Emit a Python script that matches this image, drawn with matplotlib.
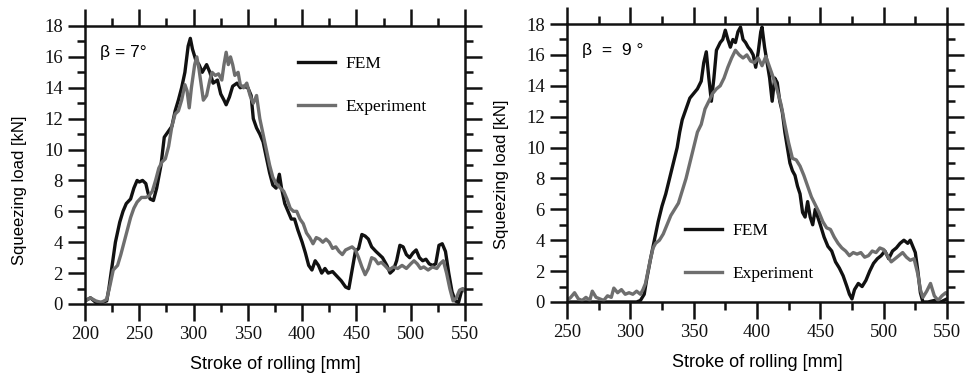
import matplotlib
matplotlib.use('Agg')
import matplotlib.pyplot as plt
from matplotlib.ticker import MultipleLocator

# beta = 7 deg panel
fem7_x = [200, 205, 210, 215, 220, 222, 225, 228, 232, 235, 238, 242, 245, 248, 250, 253, 256, 258, 260, 263,
          266, 270, 273, 276, 280, 283, 286, 289, 292, 295, 297, 299, 302, 305, 308, 312, 315, 318, 322, 325,
          328, 330, 333, 336, 340, 343, 346, 350, 353, 355, 358, 361, 364, 367, 370, 373, 376, 379, 381, 384,
          387, 390, 393, 396, 400, 403, 406, 409, 412, 415, 418, 421, 424, 428, 432, 436, 440, 443, 446, 449,
          452, 455, 458, 461, 464, 468, 471, 474, 478, 481, 484, 487, 490, 493, 496, 499, 502, 505, 508, 511,
          514, 517, 520, 523, 526, 529, 532, 535, 538, 541, 544, 547, 550]
fem7_y = [0.2, 0.4, 0.1, 0.1, 0.2, 1.0, 2.5, 4.0, 5.3, 6.0, 6.5, 6.8, 7.5, 8.0, 7.9, 8.0, 7.8, 7.2, 6.8, 6.7,
          7.5, 9.0, 10.8, 11.1, 11.5, 12.5, 13.2, 14.0, 15.0, 16.7, 17.2, 16.5, 15.8, 15.5, 15.0, 15.5, 15.0, 14.3, 14.5, 13.6,
          13.2, 12.9, 13.4, 14.1, 14.3, 14.0, 14.1, 14.0, 13.5, 12.0, 11.4, 11.0, 10.5, 9.5, 8.5, 7.7, 7.5, 8.4, 7.5, 6.5,
          6.0, 5.5, 5.5, 4.8, 4.0, 3.3, 2.5, 2.2, 2.8, 2.5, 2.0, 2.3, 2.0, 2.1, 1.8, 1.5, 1.1, 1.0, 2.2, 3.4,
          3.6, 4.5, 4.4, 4.2, 3.7, 3.4, 3.2, 3.0, 2.5, 2.0, 2.2, 2.8, 3.8, 3.7, 3.2, 3.0, 3.3, 3.5, 3.0, 2.8,
          2.9, 2.6, 2.5, 2.6, 3.8, 3.9, 3.4, 2.0, 0.8, 0.2, 0.1, 0.9, 0.9]
exp7_x = [200, 205, 210, 215, 220, 223, 226, 230, 233, 236, 239, 242, 245, 248, 252, 256, 259, 262, 265, 268,
          271, 274, 277, 280, 283, 286, 289, 292, 294, 296, 298, 301, 303, 305, 307, 309, 312, 315, 317, 320,
          323, 326, 328, 330, 332, 334, 336, 338, 341, 343, 346, 349, 352, 355, 358, 361, 364, 367, 370, 373,
          376, 380, 383, 386, 389, 392, 395, 398, 401, 404, 407, 410, 413, 416, 419, 422, 425, 428, 431, 434,
          437, 440, 443, 446, 449, 452, 455, 458, 461, 464, 467, 470, 473, 476, 480, 484, 488, 492, 496, 500,
          503, 506, 509, 512, 516, 520, 524, 527, 530, 533, 536, 539, 542, 545, 548, 550]
exp7_y = [0.2, 0.4, 0.2, 0.1, 0.3, 1.2, 2.2, 2.5, 3.2, 4.0, 4.8, 5.6, 6.2, 6.6, 6.9, 6.9, 7.0, 7.3, 8.0, 8.8,
          9.2, 9.4, 10.2, 11.5, 12.3, 12.5, 13.2, 14.2, 13.8, 12.7, 14.0, 15.5, 16.0, 15.2, 14.2, 13.2, 13.5, 14.5, 15.0, 14.8,
          14.9, 14.5, 15.5, 16.3, 15.5, 16.0, 15.5, 14.8, 15.0, 14.2, 14.0, 14.3, 13.5, 13.0, 13.5, 12.0, 11.0, 10.0, 9.0, 8.2,
          7.8, 7.5, 7.3, 6.8, 6.2, 6.0, 6.0, 5.5, 5.2, 4.6, 4.3, 3.9, 4.3, 4.2, 4.0, 4.2, 4.0, 3.6, 3.7, 3.4,
          3.2, 3.5, 3.6, 3.7, 3.5, 3.0, 2.4, 1.9, 2.3, 3.0, 2.9, 2.6, 2.7, 2.5, 2.2, 2.4, 2.3, 2.5, 2.3, 2.6,
          2.8, 2.6, 2.3, 2.4, 2.2, 2.4, 2.3, 2.6, 2.8, 2.0, 1.0, 0.2, 0.4, 0.9, 1.0, 0.8]

# beta = 9 deg panel
fem9_x = [250, 260, 270, 280, 290, 300, 305, 308, 311, 313, 316, 319, 322, 325, 328, 331, 334, 337, 339, 341,
          344, 347, 350, 353, 356, 358, 360, 362, 364, 366, 368, 371, 373, 375, 377, 379, 381, 383, 385, 387,
          389, 391, 393, 395, 397, 399, 401, 403, 404, 406, 408, 410, 412, 414, 416, 418, 420, 422, 424, 426,
          428, 430, 432, 434, 436, 438, 440, 442, 444, 446, 448, 450, 453, 456, 459, 462, 465, 468, 471, 473,
          475, 477, 480, 483, 486, 489, 492, 495, 498, 501, 504, 507, 510, 513, 516, 519, 521, 523, 525, 527,
          529, 531, 535, 540, 545, 550]
fem9_y = [0.0, 0.0, 0.0, 0.0, 0.0, 0.0, 0.0, 0.1, 0.5, 1.5, 2.8, 4.0, 5.2, 6.2, 7.0, 8.0, 9.0, 10.0, 11.0, 11.8,
          12.5, 13.2, 13.5, 13.8, 14.3, 15.5, 16.2, 14.5, 13.0, 14.5, 16.3, 16.8, 17.0, 17.6, 17.0, 16.5, 17.0, 16.8, 17.5, 17.8,
          17.0, 16.8, 16.5, 16.3, 16.0, 15.2, 16.2, 17.5, 17.8, 16.5, 15.5, 14.5, 13.0, 14.5, 14.2, 13.0, 12.3, 11.0, 10.0, 9.0,
          8.5, 8.2, 7.5, 7.0, 5.8, 5.5, 6.5, 5.5, 5.0, 6.0, 5.5, 5.0, 4.2, 3.6, 3.3, 2.6, 2.2, 1.7, 1.0, 0.5,
          0.2, 0.8, 1.2, 1.0, 1.4, 2.0, 2.5, 2.8, 3.0, 3.3, 2.8, 3.3, 3.5, 3.8, 4.0, 3.8, 4.0, 3.6, 3.2, 2.0,
          0.6, 0.0, 0.0, 0.1, 0.0, 0.2]
exp9_x = [250, 253, 256, 259, 262, 265, 268, 270, 273, 276, 279, 282, 285, 287, 290, 293, 296, 299, 302, 305,
          308, 310, 312, 314, 316, 318, 320, 323, 326, 329, 332, 335, 338, 341, 344, 347, 350, 353, 356, 359,
          362, 365, 368, 371, 374, 377, 380, 383, 386, 389, 392, 395, 398, 401, 404, 407, 410, 413, 416, 419,
          422, 425, 428, 431, 434, 437, 440, 443, 446, 449, 452, 455, 458, 461, 464, 467, 470, 473, 476, 479,
          482, 485, 488, 491, 494, 497, 500, 503, 506, 509, 512, 515, 518, 521, 524, 527, 529, 531, 534, 537,
          540, 543, 546, 549, 550]
exp9_y = [0.1, 0.3, 0.6, 0.2, 0.1, 0.3, 0.1, 0.7, 0.3, 0.2, 0.1, 0.4, 0.3, 0.9, 0.6, 0.8, 0.5, 0.6, 0.5, 0.7,
          0.5, 0.8, 1.2, 2.0, 2.8, 3.5, 3.8, 4.0, 4.4, 5.0, 5.6, 6.0, 6.4, 7.2, 8.0, 9.0, 10.0, 11.0, 11.5, 12.5,
          13.0, 13.5, 13.8, 14.0, 14.5, 15.2, 15.8, 16.3, 16.0, 15.8, 16.0, 15.6, 15.5, 15.8, 15.3, 15.9, 15.2, 14.5, 13.7, 12.8,
          11.5, 10.3, 9.3, 9.2, 8.8, 8.2, 7.5, 6.8, 6.3, 5.8, 5.2, 4.8, 4.7, 4.2, 3.8, 3.5, 3.3, 3.0, 3.2, 3.1,
          3.2, 2.9, 3.0, 3.3, 3.2, 3.5, 3.4, 3.0, 2.6, 2.8, 3.0, 3.2, 2.9, 2.7, 2.8, 1.8, 0.8, 0.3, 0.7, 1.2,
          0.4, 0.1, 0.4, 0.6, 0.5]

serif = ['Liberation Serif', 'DejaVu Serif']
sans = ['Liberation Sans', 'DejaVu Sans']
fem_color = '#111111'
exp_color = '#6e6e6e'


def style_axes(ax, xmin, xmax, ylabel_y):
    ax.set_xlim(xmin, xmax)
    ax.set_ylim(0, 18)
    ax.xaxis.set_major_locator(MultipleLocator(50))
    ax.xaxis.set_minor_locator(MultipleLocator(25))
    ax.yaxis.set_major_locator(MultipleLocator(2))
    ax.yaxis.set_minor_locator(MultipleLocator(1))
    ax.tick_params(which='both', direction='out', top=True, right=True, width=1.8, labelsize=13.5, colors='#111111')
    ax.tick_params(which='major', length=12, pad=4)
    ax.tick_params(which='minor', length=6)
    for lbl in ax.get_xticklabels() + ax.get_yticklabels():
        lbl.set_fontfamily(serif)
    for sp in ax.spines.values():
        sp.set_linewidth(1.8)
        sp.set_color('#111111')
    ax.set_xlabel('Stroke of rolling [mm]', fontsize=13, family=sans, labelpad=9)
    ax.set_ylabel('Squeezing load [kN]', fontsize=12, family=sans)
    ax.yaxis.set_label_coords(-0.153, ylabel_y)


fig = plt.figure(figsize=(9.67, 3.8), dpi=100)
ax1 = fig.add_axes([0.0879, 0.20, 0.393, 0.7316])
ax2 = fig.add_axes([0.5863, 0.2053, 0.393, 0.7315])

ax1.plot(fem7_x, fem7_y, color=fem_color, lw=2.4, label='FEM')
ax1.plot(exp7_x, exp7_y, color=exp_color, lw=2.4, label='Experiment')
style_axes(ax1, 200, 550, 0.41)
ax1.text(0.04, 0.89, 'β = 7°', transform=ax1.transAxes, fontsize=12.5, family=sans)
ax1.legend(loc='upper left', bbox_to_anchor=(0.52, 0.95), frameon=False, prop={'family': serif, 'size': 12.5},
           handlelength=2.1, labelspacing=1.55, handletextpad=0.6)

ax2.plot(fem9_x, fem9_y, color=fem_color, lw=2.4, label='FEM')
ax2.plot(exp9_x, exp9_y, color=exp_color, lw=2.4, label='Experiment')
style_axes(ax2, 250, 550, 0.46)
ax2.text(0.04, 0.89, 'β  =  9 °', transform=ax2.transAxes, fontsize=12.5, family=sans)
ax2.legend(loc='upper left', bbox_to_anchor=(0.27, 0.34), frameon=False, prop={'family': serif, 'size': 12.5},
           handlelength=2.1, labelspacing=1.55, handletextpad=0.6)

fig.savefig('out.png', dpi=100)
